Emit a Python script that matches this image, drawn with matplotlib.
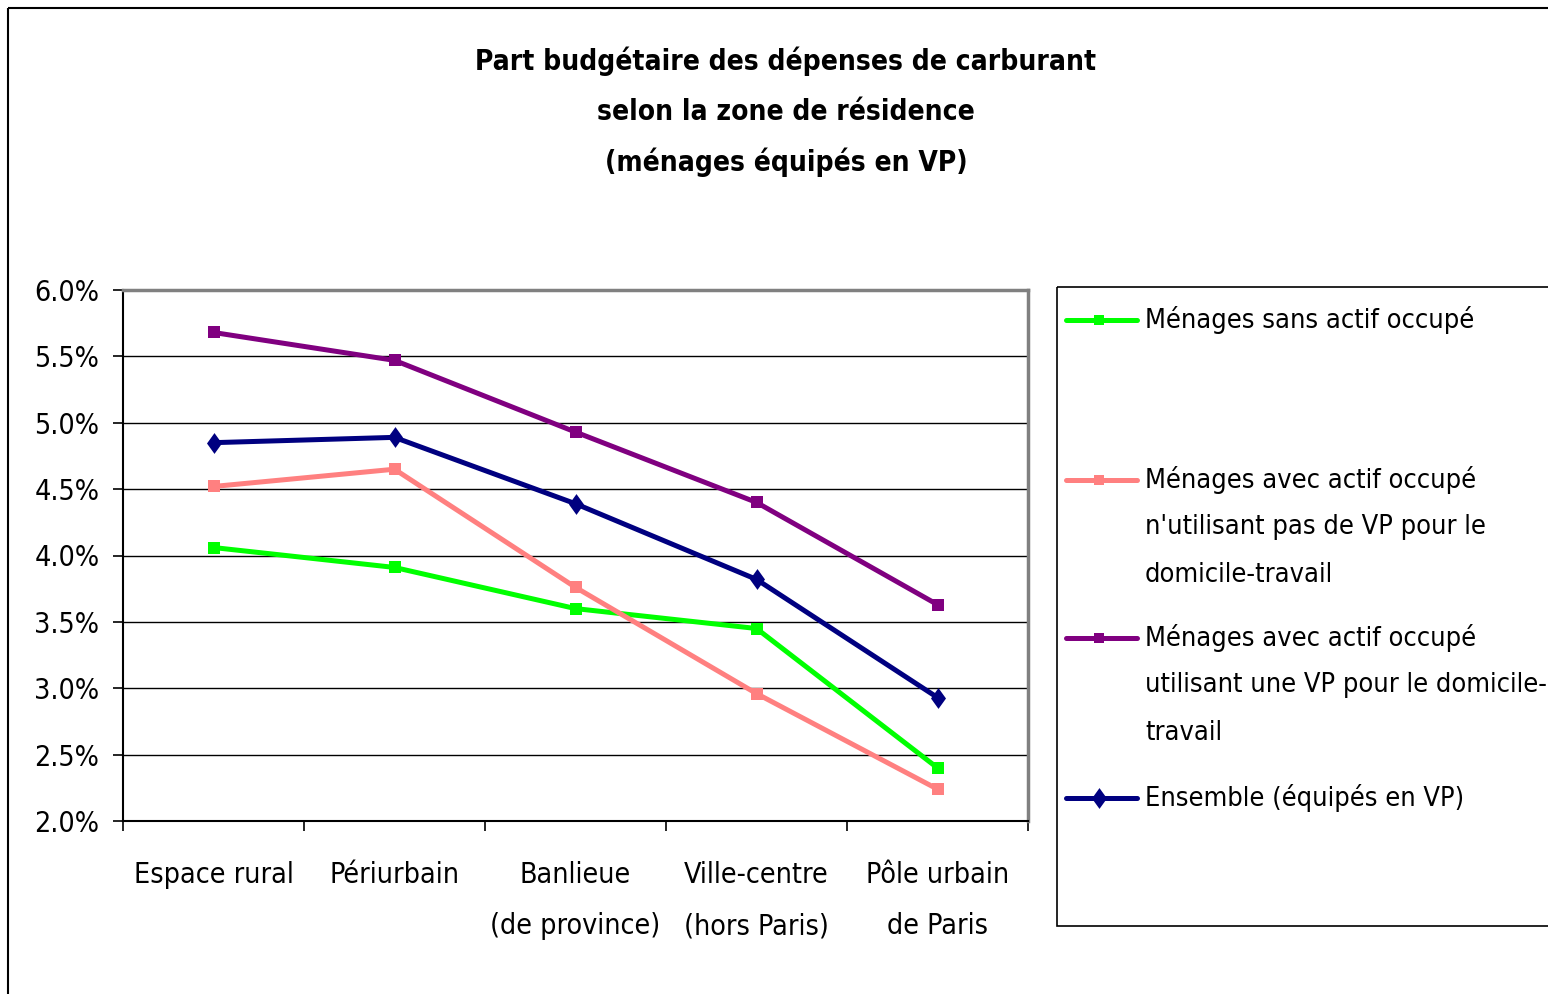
import matplotlib
matplotlib.use("Agg")
import matplotlib.pyplot as plt
from matplotlib import font_manager
from matplotlib.lines import Line2D
from matplotlib.patches import Rectangle
from matplotlib.path import Path
import numpy as np

# ---- data ----
categories = ["Espace rural", "Périurbain", "Banlieue\n(de province)",
              "Ville-centre\n(hors Paris)", "Pôle urbain\nde Paris"]
sans_actif = [4.06, 3.91, 3.60, 3.45, 2.40]
actif_sans_vp = [4.52, 4.65, 3.76, 2.96, 2.24]
actif_avec_vp = [5.68, 5.47, 4.93, 4.40, 3.63]
ensemble = [4.85, 4.89, 4.39, 3.82, 2.93]
series_labels = ["Ménages sans actif occupé",
                 "Ménages avec actif occupé\nn'utilisant pas de VP pour le\ndomicile-travail",
                 "Ménages avec actif occupé\nutilisant une VP pour le domicile-\ntravail",
                 "Ensemble (équipés en VP)"]
y_ticks = [2.0, 2.5, 3.0, 3.5, 4.0, 4.5, 5.0, 5.5, 6.0]
title_lines = ["Part budgétaire des dépenses de carburant",
               "selon la zone de résidence",
               "(ménages équipés en VP)"]

cond = [f for f in font_manager.fontManager.ttflist
        if f.name == "DejaVu Sans" and "condensed" in str(f.stretch)]
plt.rcParams["font.family"] = ["DejaVu Sans"]
if cond:
    plt.rcParams["font.stretch"] = "condensed"
    FS, TFS = 20.5, 20.2
else:
    FS, TFS = 18.6, 18.3
LFS = FS * 0.95

W, H = 1548, 994
fig = plt.figure(figsize=(W / 100, H / 100), dpi=100)

L, R, T, B = 123, 1028, 290, 821
ax = fig.add_axes([L / W, 1 - B / H, (R - L) / W, (B - T) / H])

colors = ["#00FF00", "#FF8080", "#800080", "#000080"]
diamond = Path([(0, 1), (0.72, 0), (0, -1), (-0.72, 0), (0, 1)],
               [Path.MOVETO, Path.LINETO, Path.LINETO, Path.LINETO, Path.CLOSEPOLY])
markers = ["s", "s", "s", diamond]
msizes = [8, 8, 8, 15]
data = [sans_actif, actif_sans_vp, actif_avec_vp, ensemble]
x = np.arange(len(categories))
for vals, c, m, ms in zip(data, colors, markers, msizes):
    ax.plot(x, vals, color=c, lw=3.6, marker=m, markersize=ms,
            markeredgewidth=0, solid_joinstyle="miter", zorder=3)

ax.set_xlim(-0.5, len(categories) - 0.5)
ax.set_ylim(2.0, 6.0)
ax.set_yticks(y_ticks)
ax.set_yticklabels([f"{v:.1f}%" for v in y_ticks])
ax.yaxis.grid(True, color="black", lw=1.0)
ax.set_axisbelow(True)

ax.set_xticks(np.arange(-0.5, len(categories), 1.0))
ax.set_xticklabels([])
ax.set_xticks(x, minor=True)
ax.set_xticklabels(categories, minor=True, fontsize=FS, linespacing=2.05)
ax.tick_params(axis="x", which="minor", length=0, pad=29)
ax.tick_params(axis="x", which="major", length=7, width=1.2, direction="out")
ax.tick_params(axis="y", length=7, width=1.2, direction="out", labelsize=FS, pad=10)

for s in ["left", "bottom"]:
    ax.spines[s].set_color("black")
    ax.spines[s].set_linewidth(1.5)
for s in ["top", "right"]:
    ax.spines[s].set_color("#808080")
    ax.spines[s].set_linewidth(2.5)

ov = fig.add_axes([0, 0, 1, 1], zorder=-1)
ov.set_xlim(0, W)
ov.set_ylim(H, 0)
ov.axis("off")
ov.add_patch(Rectangle((7.5, 8), W + 20, H + 20, fill=False, ec="black", lw=1.5))

ov2 = fig.add_axes([0, 0, 1, 1], zorder=5)
ov2.set_xlim(0, W)
ov2.set_ylim(H, 0)
ov2.axis("off")
ov2.patch.set_alpha(0)

for i, t in enumerate(title_lines):
    ov2.text(786, 61 + i * 50.5, t, ha="center", va="center", fontsize=TFS,
             fontweight="bold")

ov2.add_patch(Rectangle((1056.5, 287), 600, 639, fill=False, ec="black", lw=1.2))
line_h = 47.5
first_lines = [320, 480, 638, 798]
for lab, c, m, ms, y0 in zip(series_labels, colors, markers, msizes, first_lines):
    ov2.add_line(Line2D([1066, 1137], [y0, y0], color=c, lw=3.6, solid_capstyle="round"))
    ov2.add_line(Line2D([1099], [y0], color=c, marker=m, markersize=ms if m is diamond else 6.5,
                        markeredgewidth=0, lw=0))
    for j, ln in enumerate(lab.split("\n")):
        ov2.text(1145, y0 + j * line_h, ln, ha="left", va="center", fontsize=LFS)

fig.savefig("out.png", dpi=100)
